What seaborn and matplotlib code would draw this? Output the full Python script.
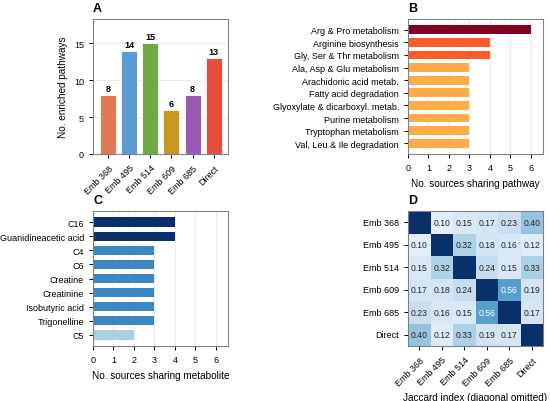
import numpy as np
import pandas as pd
import seaborn as sns
import matplotlib
matplotlib.use("Agg")
import matplotlib.pyplot as plt

# Panel A - enriched pathways per source
sources = ["Emb 368", "Emb 495", "Emb 514", "Emb 609", "Emb 685", "Direct"]
n_pathways = [8, 14, 15, 6, 8, 13]
source_colors = ["#E27B55", "#5B9BD5", "#6DAA45", "#C9961F", "#9B59B6", "#E74C3C"]

# Panel B - pathways shared across sources
pathways = ["Arg & Pro metabolism", "Arginine biosynthesis", "Gly, Ser & Thr metabolism",
            "Ala, Asp & Glu metabolism", "Arachidonic acid metab.", "Fatty acid degradation",
            "Glyoxylate & dicarboxyl. metab.", "Purine metabolism", "Tryptophan metabolism",
            "Val, Leu & Ile degradation"]
pathway_counts = [6, 4, 4, 3, 3, 3, 3, 3, 3, 3]
pathway_colors = {6: "#800026", 4: "#FD5A2A", 3: "#FEAB4A"}

# Panel C - metabolites shared across sources
metabolites = ["C16", "Guanidineacetic acid", "C4", "C6", "Creatine", "Creatinine",
               "Isobutyric acid", "Trigonelline", "C5"]
metabolite_counts = [4, 4, 3, 3, 3, 3, 3, 3, 2]
metabolite_colors = {4: "#08306B", 3: "#3A87C4", 2: "#A9CFE5"}

# Panel D - Jaccard index between sources (diagonal omitted)
jaccard = [
    [np.nan, 0.10, 0.15, 0.17, 0.23, 0.40],
    [0.10, np.nan, 0.32, 0.18, 0.16, 0.12],
    [0.15, 0.32, np.nan, 0.24, 0.15, 0.33],
    [0.17, 0.18, 0.24, np.nan, 0.56, 0.19],
    [0.23, 0.16, 0.15, 0.56, np.nan, 0.17],
    [0.40, 0.12, 0.33, 0.19, 0.17, np.nan],
]

plt.rcParams["font.family"] = ["Liberation Sans", "DejaVu Sans"]
plt.rcParams["axes.edgecolor"] = "#808080"
plt.rcParams["axes.linewidth"] = 0.8
plt.rcParams["xtick.major.size"] = 3
plt.rcParams["ytick.major.size"] = 3
plt.rcParams["xtick.major.width"] = 0.7
plt.rcParams["ytick.major.width"] = 0.7

TICK = 6.5
LAB = 7.2
GRID = "#e6e6e6"

fig = plt.figure(figsize=(5.5, 4.02), dpi=100)
axA = fig.add_axes([93 / 550, 1 - 155 / 402, 135 / 550, 135 / 402])
axB = fig.add_axes([408 / 550, 1 - 155 / 402, 135 / 550, 135 / 402])
axC = fig.add_axes([93 / 550, 1 - 347 / 402, 135 / 550, 135 / 402])
axD = fig.add_axes([408 / 550, 1 - 347 / 402, 135 / 550, 135 / 402])

# A
dfA = pd.DataFrame({"source": sources, "n": n_pathways})
sns.barplot(data=dfA, x="source", y="n", hue="source", palette=dict(zip(sources, source_colors)),
            legend=False, width=0.76, edgecolor="white", linewidth=0.6, saturation=1, ax=axA)
for cont in axA.containers:
    axA.bar_label(cont, padding=1.5, fontsize=6.5, fontweight="bold")
axA.set_ylim(0, 18.3)
axA.set_xlim(-0.72, 5.68)
axA.set_yticks([0, 5, 10, 15])
axA.set_xlabel("")
axA.set_ylabel("No. enriched pathways", fontsize=LAB)
axA.tick_params(axis="x", labelsize=TICK, rotation=45)
for t in axA.get_xticklabels():
    t.set_ha("right")
    t.set_rotation_mode("anchor")
axA.tick_params(axis="y", labelsize=TICK)
axA.yaxis.grid(True, color=GRID, linewidth=0.6)
axA.set_axisbelow(True)

# B
dfB = pd.DataFrame({"pathway": pathways, "n": pathway_counts})
palB = {p: pathway_colors[c] for p, c in zip(pathways, pathway_counts)}
sns.barplot(data=dfB, x="n", y="pathway", hue="pathway", palette=palB, orient="h",
            legend=False, width=0.7, linewidth=0, saturation=1, ax=axB)
axB.set_xlim(0, 6.6)
axB.set_ylim(9.85, -0.85)
axB.set_xticks(range(7))
axB.set_ylabel("")
axB.set_xlabel("No. sources sharing pathway", fontsize=LAB)
axB.tick_params(labelsize=TICK)
axB.xaxis.grid(True, color=GRID, linewidth=0.6)
axB.set_axisbelow(True)

# C
dfC = pd.DataFrame({"metabolite": metabolites, "n": metabolite_counts})
palC = {m: metabolite_colors[c] for m, c in zip(metabolites, metabolite_counts)}
sns.barplot(data=dfC, x="n", y="metabolite", hue="metabolite", palette=palC, orient="h",
            legend=False, width=0.68, linewidth=0, saturation=1, ax=axC)
axC.set_xlim(0, 6.6)
axC.set_ylim(8.8, -0.8)
axC.set_xticks(range(7))
axC.set_ylabel("")
axC.set_xlabel("No. sources sharing metabolite", fontsize=LAB)
axC.tick_params(labelsize=TICK)
axC.xaxis.grid(True, color=GRID, linewidth=0.6)
axC.set_axisbelow(True)

# D
jac = np.array(jaccard)
vals = np.where(np.isnan(jac), 1.0, jac)
annot = np.where(np.isnan(jac), "", np.vectorize(lambda v: f"{v:.2f}")(np.nan_to_num(jac)))
sns.heatmap(pd.DataFrame(vals, index=sources, columns=sources), cmap="Blues", vmin=0, vmax=1,
            annot=annot, fmt="", annot_kws={"fontsize": 6.2}, cbar=False, square=False, ax=axD)
for s in axD.spines.values():
    s.set_visible(True)
    s.set_color("#808080")
    s.set_linewidth(0.8)
axD.tick_params(labelsize=TICK, length=3)
axD.set_yticklabels(sources, rotation=0)
axD.set_xticklabels(sources, rotation=45, ha="right", rotation_mode="anchor")
axD.set_xlabel("Jaccard index (diagonal omitted)", fontsize=LAB)

for ax, letter in zip([axA, axB, axC, axD], "ABCD"):
    ax.text(0, 1.035, letter, transform=ax.transAxes, fontsize=9, fontweight="bold",
            ha="left", va="bottom")

fig.savefig("out.png", dpi=100)
